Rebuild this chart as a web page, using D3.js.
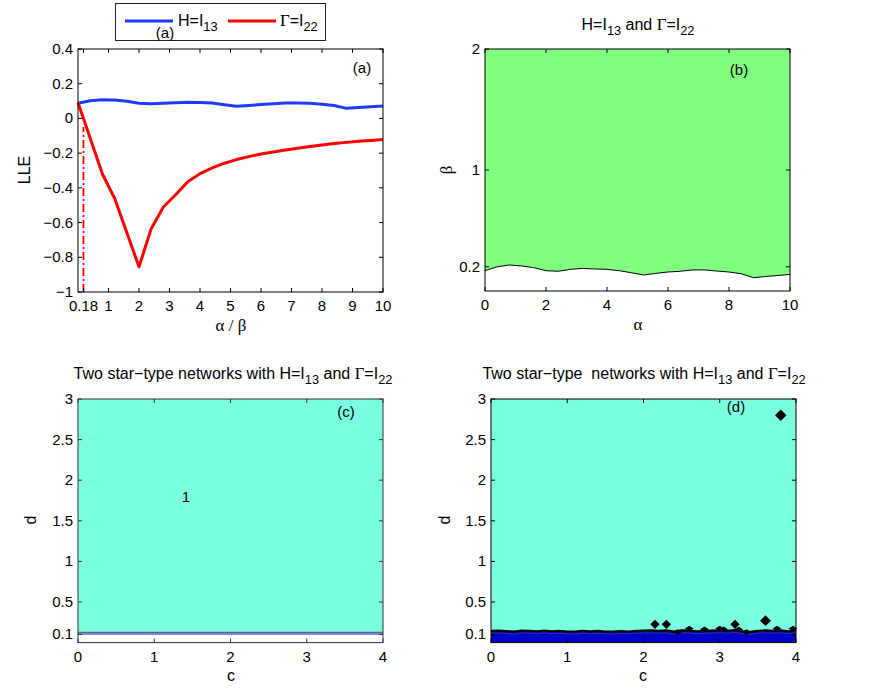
<!DOCTYPE html>
<html><head><meta charset="utf-8">
<script src="https://cdn.jsdelivr.net/npm/d3@7/dist/d3.min.js"></script>
<style>body{margin:0;background:#fff}svg{display:block}text{font-family:"Liberation Sans",Arial,sans-serif;fill:#000}</style>
</head><body><svg id="c" width="872" height="696"></svg>
<script>
// ---------- data ----------
const llePos_x   = [0,0.4,0.8,1.2,1.6,2,2.4,2.8,3.2,3.6,4,4.4,4.8,5.2,5.6,6,6.4,6.8,7.2,7.6,8,8.4,8.8,9.2,9.6,10];
const lleH       = [0.088,0.102,0.108,0.106,0.099,0.087,0.084,0.088,0.091,0.093,0.092,0.089,0.079,0.070,0.075,0.080,0.085,0.089,0.089,0.087,0.082,0.074,0.058,0.063,0.067,0.071];
const lleG_x     = [0,0.18,0.8,1.2,2,2.4,2.8,3.2,3.6,4,4.4,4.8,5.2,5.6,6,6.4,6.8,7.2,7.6,8,8.4,8.8,9.2,9.6,10];
const lleG       = [0.09,0.0,-0.32,-0.46,-0.855,-0.635,-0.51,-0.44,-0.365,-0.318,-0.285,-0.258,-0.237,-0.22,-0.205,-0.193,-0.182,-0.172,-0.162,-0.153,-0.145,-0.138,-0.132,-0.127,-0.122];
const xTicksA    = [0.18,1,2,3,4,5,6,7,8,9,10];
const yTicksA    = [-1,-0.8,-0.6,-0.4,-0.2,0,0.2,0.4];
const critAlpha  = 0.18;

const betaB_x    = [0,0.4,0.8,1.2,1.6,2,2.4,2.8,3.2,3.6,4,4.4,4.8,5.2,5.6,6,6.4,6.8,7.2,7.6,8,8.4,8.8,9.2,9.6,10];
const betaB      = [0.168,0.200,0.215,0.207,0.193,0.168,0.163,0.179,0.187,0.182,0.179,0.168,0.151,0.132,0.146,0.157,0.163,0.174,0.174,0.165,0.157,0.143,0.110,0.120,0.128,0.137];
const xTicksB    = [0,2,4,6,8,10];
const yTicksB    = [0.2,1,2];

const cGrid      = [0,0.1,0.2,0.3,0.4,0.5,0.6,0.7,0.8,0.9,1,1.1,1.2,1.3,1.4,1.5,1.6,1.7,1.8,1.9,2,2.1,2.2,2.3,2.4,2.5,2.6,2.7,2.8,2.9,3,3.1,3.2,3.3,3.4,3.5,3.6,3.7,3.8,3.9,4];
const boundC     = [0.115,0.115,0.115,0.115,0.115,0.115,0.115,0.115,0.115,0.115,0.115,0.115,0.115,0.115,0.115,0.115,0.115,0.115,0.115,0.115,0.115,0.115,0.115,0.115,0.115,0.115,0.115,0.115,0.115,0.115,0.115,0.115,0.115,0.115,0.115,0.115,0.115,0.115,0.115,0.115,0.115];
const boundD     = [0.145,0.148,0.142,0.135,0.148,0.146,0.140,0.148,0.140,0.146,0.137,0.137,0.146,0.138,0.145,0.137,0.137,0.143,0.137,0.146,0.148,0.150,0.145,0.150,0.135,0.150,0.148,0.140,0.145,0.148,0.152,0.145,0.155,0.140,0.133,0.146,0.150,0.145,0.152,0.140,0.150];
const diamC      = [2.15,2.30,3.20,3.60,3.80];
const diamD      = [0.225,0.225,0.225,0.27,2.80];
const diamSize   = [55,55,55,75,85];
const bumpC      = [2.6,2.8,3.0,3.05,3.25,3.75,3.96,2.45,3.35];
const bumpD      = [0.175,0.165,0.175,0.165,0.16,0.175,0.175,0.13,0.13];
const xTicksC    = [0,1,2,3,4];
const yTicksC    = [0.1,0.5,1,1.5,2,2.5,3];

// ---------- helpers ----------
const svg = d3.select("#c");
const FS = 15, TFS = 16;
function richText(g, x, y, parts, opts={}) {
  const sz = opts.size||FS;
  const t = g.append("text").attr("x", x).attr("y", y).attr("font-size", sz)
    .attr("text-anchor", opts.anchor||"middle").style("white-space","pre");
  let shift = 0;
  parts.forEach(p => {
    const ts = t.append("tspan").text(p.t);
    if (p.sub) { ts.attr("dy", 5 - shift).attr("font-size", sz*0.8); shift = 5; }
    else if (shift) { ts.attr("dy", -shift); shift = 0; }
    if (p.serif) ts.style("font-family", "'Liberation Serif','Times New Roman',serif").attr("font-size", sz*1.05);
  });
  return t;
}
const HG = [{t:"H=I"},{t:"13",sub:true},{t:" and "},{t:"Γ",serif:true},{t:"=I"},{t:"22",sub:true}];

function axesFrame(g, x, y, xt, yt, fmtX, fmtY, frameColor) {
  const [x0,x1] = x.range(), [y0,y1] = y.range();
  const tl = 4;
  const ax = g.append("g").attr("stroke", frameColor||"#000").attr("stroke-width",1).attr("fill","none");
  xt.forEach(v => {
    const px = x(v);
    ax.append("line").attr("x1",px).attr("x2",px).attr("y1",y0).attr("y2",y0-tl);
    ax.append("line").attr("x1",px).attr("x2",px).attr("y1",y1).attr("y2",y1+tl);
  });
  yt.forEach(v => {
    const py = y(v);
    ax.append("line").attr("x1",x0).attr("x2",x0+tl).attr("y1",py).attr("y2",py);
    ax.append("line").attr("x1",x1).attr("x2",x1-tl).attr("y1",py).attr("y2",py);
  });
  ax.append("rect").attr("x",x0).attr("y",y1).attr("width",x1-x0).attr("height",y0-y1);
  xt.forEach(v => g.append("text").attr("x",x(v)).attr("y",y0+19).attr("text-anchor","middle")
      .attr("font-size",FS).text(fmtX(v)));
  yt.forEach(v => g.append("text").attr("x",x0-5).attr("y",y(v)+5).attr("text-anchor","end")
      .attr("font-size",FS).text(fmtY(v)));
}
const fmtMinus = v => String(v).replace("-", "\u2212");

// ---------- panel (a) ----------
{
  const g = svg.append("g");
  const x = d3.scaleLinear().domain([0,10]).range([78,383]);
  const y = d3.scaleLinear().domain([-1,0.4]).range([292,49]);
  const line = d3.line().x(d=>x(d[0])).y(d=>y(d[1]));
  g.append("path").datum(llePos_x.map((v,i)=>[v,lleH[i]])).attr("d",line)
    .attr("fill","none").attr("stroke","#1f3bff").attr("stroke-width",3).attr("stroke-linejoin","round");
  g.append("line").attr("x1",x(critAlpha)).attr("x2",x(critAlpha)).attr("y1",y(-1)).attr("y2",y(-0.05))
    .attr("stroke","#ff0000").attr("stroke-width",1.8).attr("stroke-dasharray","8,3,2,3");
  g.append("path").datum(lleG_x.map((v,i)=>[v,lleG[i]])).attr("d",line)
    .attr("fill","none").attr("stroke","#ff0000").attr("stroke-width",3).attr("stroke-linejoin","round");
  axesFrame(g, x, y, xTicksA, yTicksA, v=>String(v), fmtMinus);
  g.append("text").attr("x",362).attr("y",73).attr("text-anchor","middle").attr("font-size",FS).text("(a)");
  g.append("text").attr("x",231).attr("y",331).attr("text-anchor","middle").attr("font-size",TFS+1)
    .style("font-family","'Liberation Serif',serif").text("α / β");
  g.append("text").attr("x",30).attr("y",170).attr("text-anchor","middle").attr("font-size",TFS)
    .attr("transform","rotate(-90,30,170)").text("LLE");
  const lg = svg.append("g");
  lg.append("rect").attr("x",115.5).attr("y",3.5).attr("width",210).attr("height",37)
    .attr("fill","#fff").attr("stroke","#222").attr("stroke-width",1);
  lg.append("line").attr("x1",125).attr("x2",173).attr("y1",21).attr("y2",21).attr("stroke","#1f3bff").attr("stroke-width",3);
  richText(lg,178,26,[{t:"H=I"},{t:"13",sub:true}],{anchor:"start",size:TFS});
  lg.append("line").attr("x1",228).attr("x2",276).attr("y1",21).attr("y2",21).attr("stroke","#ff0000").attr("stroke-width",3);
  richText(lg,280,26,[{t:"Γ",serif:true},{t:"=I"},{t:"22",sub:true}],{anchor:"start",size:TFS});
  lg.append("text").attr("x",165).attr("y",38).attr("text-anchor","middle").attr("font-size",FS).text("(a)");
}

// ---------- panel (b) ----------
{
  const g = svg.append("g");
  const x = d3.scaleLinear().domain([0,10]).range([485,790]);
  const y = d3.scaleLinear().domain([0,2]).range([291,49]);
  const pts = betaB_x.map((v,i)=>[v,betaB[i]]);
  const area = d3.area().x(d=>x(d[0])).y0(y(2)).y1(d=>y(d[1]));
  g.append("path").datum(pts).attr("d",area).attr("fill","#80ff80");
  g.append("path").datum(pts).attr("d",d3.line().x(d=>x(d[0])).y(d=>y(d[1])))
    .attr("fill","none").attr("stroke","#000").attr("stroke-width",1);
  axesFrame(g, x, y, xTicksB, yTicksB, v=>String(v), v=>String(v));
  g.append("text").attr("x",739).attr("y",75).attr("text-anchor","middle").attr("font-size",FS).text("(b)");
  richText(g,638,30,HG,{size:TFS});
  g.append("text").attr("x",638).attr("y",330).attr("text-anchor","middle").attr("font-size",TFS+1)
    .style("font-family","'Liberation Serif',serif").text("α");
  g.append("text").attr("x",452).attr("y",170).attr("text-anchor","middle").attr("font-size",TFS+1)
    .style("font-family","'Liberation Serif',serif").attr("transform","rotate(-90,452,170)").text("β");
}

// ---------- panel (c) ----------
{
  const g = svg.append("g");
  const x = d3.scaleLinear().domain([0,4]).range([78,383]);
  const y = d3.scaleLinear().domain([0,3]).range([642.6,399]);
  const pts = cGrid.map((v,i)=>[v,boundC[i]]);
  g.append("path").datum(pts).attr("d",d3.area().x(d=>x(d[0])).y0(y(3)).y1(d=>y(d[1]))).attr("fill","#7affe0");
  g.append("path").datum(pts).attr("d",d3.line().x(d=>x(d[0])).y(d=>y(d[1])))
    .attr("fill","none").attr("stroke","#666").attr("stroke-width",1.2).attr("transform","translate(0,-0.8)");
  g.append("path").datum(pts).attr("d",d3.line().x(d=>x(d[0])).y(d=>y(d[1])))
    .attr("fill","none").attr("stroke","#4f5ff0").attr("stroke-width",1.5).attr("transform","translate(0,0.8)");
  axesFrame(g, x, y, xTicksC, yTicksC, v=>String(v), v=>String(v), "#333");
  g.append("text").attr("x",346).attr("y",417).attr("text-anchor","middle").attr("font-size",FS).text("(c)");
  g.append("text").attr("x",186).attr("y",502).attr("text-anchor","middle").attr("font-size",FS).text("1");
  richText(g,233,379,[{t:"Two star\u2212type networks with "}].concat(HG),{size:TFS});
  g.append("text").attr("x",231).attr("y",681).attr("text-anchor","middle").attr("font-size",TFS).text("c");
  g.append("text").attr("x",36).attr("y",520).attr("text-anchor","middle").attr("font-size",TFS)
    .attr("transform","rotate(-90,36,520)").text("d");
}

// ---------- panel (d) ----------
{
  const g = svg.append("g");
  const x = d3.scaleLinear().domain([0,4]).range([491,796]);
  const y = d3.scaleLinear().domain([0,3]).range([642.6,399]);
  const pts = cGrid.map((v,i)=>[v,boundD[i]]);
  g.append("rect").attr("x",491).attr("y",399).attr("width",305).attr("height",243.6).attr("fill","#7affe0");
  g.append("path").datum(pts).attr("d",d3.area().x(d=>x(d[0])).y0(y(0)).y1(d=>y(d[1]))).attr("fill","#0000cd");
  g.append("path").datum(pts).attr("d",d3.line().x(d=>x(d[0])).y(d=>y(d[1])))
    .attr("fill","none").attr("stroke","#000").attr("stroke-width",2.2);
  g.append("path").datum(pts).attr("d",d3.line().x(d=>x(d[0])).y(d=>y(d[1]-0.03)))
    .attr("fill","none").attr("stroke","#555").attr("stroke-width",1).attr("opacity",0.6);
  bumpC.forEach((c,i)=>{
    g.append("path").attr("d",d3.symbol(d3.symbolDiamond2,30)()).attr("fill","#000")
      .attr("transform",`translate(${x(c)},${y(bumpD[i])}) scale(1.3,0.8)`);
  });
  diamC.forEach((c,i)=>{
    g.append("path").attr("d",d3.symbol(d3.symbolDiamond2,diamSize[i])()).attr("fill","#000")
      .attr("transform",`translate(${x(c)},${y(diamD[i])})`);
  });
  axesFrame(g, x, y, xTicksC, yTicksC, v=>String(v), v=>String(v), "#000");
  g.append("text").attr("x",736).attr("y",412).attr("text-anchor","middle").attr("font-size",FS).text("(d)");
  richText(g,644,379,[{t:"Two star\u2212type  networks with "}].concat(HG),{size:TFS});
  g.append("text").attr("x",643).attr("y",681).attr("text-anchor","middle").attr("font-size",TFS).text("c");
  g.append("text").attr("x",450).attr("y",520).attr("text-anchor","middle").attr("font-size",TFS)
    .attr("transform","rotate(-90,450,520)").text("d");
}
</script></body></html>
